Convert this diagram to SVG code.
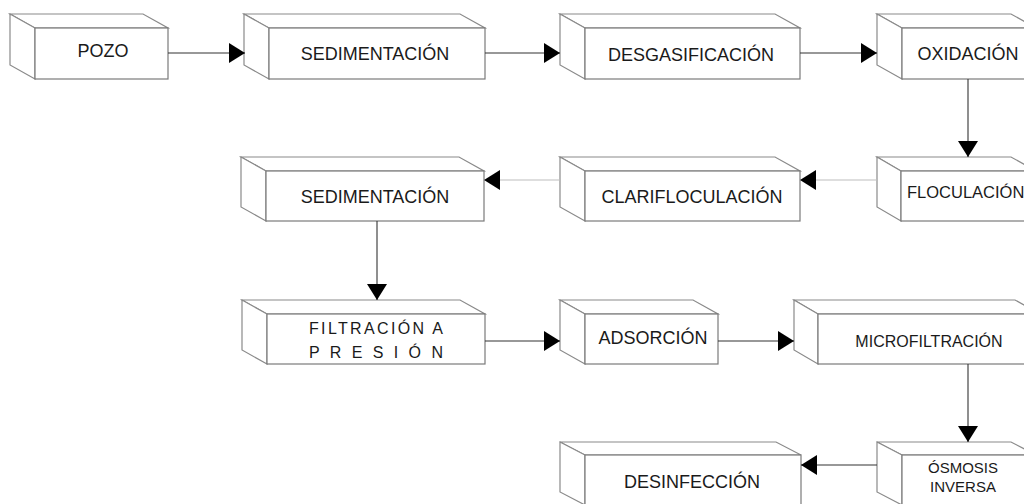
<svg xmlns="http://www.w3.org/2000/svg" width="1024" height="504" viewBox="0 0 1024 504">
<style>
.face{fill:#fff;stroke:#8a8a8a;stroke-width:1.2;stroke-linejoin:miter}
.front{fill:#fff;stroke:#7a7a7a;stroke-width:1.2}
.lbl{font-family:"Liberation Sans",Arial,sans-serif;font-size:18px;fill:#1a1a1a;text-anchor:middle}
.sm{font-size:16px}
.xs{font-size:15px}
.conn{stroke:#333;stroke-width:1.1;fill:none;marker-end:url(#ah)}
.light{stroke:#bdbdbd}
</style>
<defs>
<marker id="ah" viewBox="0 0 16 20" refX="16" refY="10" markerWidth="16" markerHeight="20" markerUnits="userSpaceOnUse" orient="auto">
<path d="M0,0 L16,10 L0,20 Z" fill="#000"/>
</marker>
</defs>
<rect width="1024" height="504" fill="#fff"/>

<g id="pozo">
<polygon class="face" points="10,14 143,14 168,28 35,28"/>
<polygon class="face" points="10,14 35,28 35,79 10,65"/>
<rect class="front" x="35" y="28" width="133" height="51"/>
<text class="lbl" x="103" y="57">POZO</text>
</g>
<g id="sedimentacion1">
<polygon class="face" points="244,14 460,14 485,28 269,28"/>
<polygon class="face" points="244,14 269,28 269,79 244,65"/>
<rect class="front" x="269" y="28" width="216" height="51"/>
<text class="lbl" x="375" y="60">SEDIMENTACIÓN</text>
</g>
<g id="desgasificacion">
<polygon class="face" points="560,14 775,14 800,28 585,28"/>
<polygon class="face" points="560,14 585,28 585,79 560,65"/>
<rect class="front" x="585" y="28" width="215" height="51"/>
<text class="lbl" x="691" y="61">DESGASIFICACIÓN</text>
</g>
<g id="oxidacion">
<polygon class="face" points="877,14 1011,14 1036,28 902,28"/>
<polygon class="face" points="877,14 902,28 902,79 877,65"/>
<rect class="front" x="902" y="28" width="134" height="51"/>
<text class="lbl" x="968" y="60">OXIDACIÓN</text>
</g>

<g id="sedimentacion2">
<polygon class="face" points="241,157 459,157 484,171 266,171"/>
<polygon class="face" points="241,157 266,171 266,221 241,207"/>
<rect class="front" x="266" y="171" width="218" height="50"/>
<text class="lbl" x="375" y="203">SEDIMENTACIÓN</text>
</g>
<g id="clarifloculacion">
<polygon class="face" points="560,157 775,157 800,171 585,171"/>
<polygon class="face" points="560,157 585,171 585,221 560,207"/>
<rect class="front" x="585" y="171" width="215" height="50"/>
<text class="lbl" x="692" y="203">CLARIFLOCULACIÓN</text>
</g>
<g id="floculacion">
<polygon class="face" points="877,157 1011,157 1036,171 901,171"/>
<polygon class="face" points="877,157 901,171 901,221 877,207"/>
<rect class="front" x="901" y="171" width="135" height="50"/>
<text class="lbl" x="907" y="198" style="text-anchor:start;font-size:16.5px">FLOCULACIÓN</text>
</g>

<g id="filtracion">
<polygon class="face" points="242,300 460,300 485,314 267,314"/>
<polygon class="face" points="242,300 267,314 267,364 242,350"/>
<rect class="front" x="267" y="314" width="218" height="50"/>
<text class="lbl sm" x="309" y="334" style="text-anchor:start" textLength="134" lengthAdjust="spacing">FILTRACIÓN A</text>
<text class="lbl sm" x="309" y="358" style="text-anchor:start" textLength="134" lengthAdjust="spacing">P R E S I Ó N</text>
</g>
<g id="adsorcion">
<polygon class="face" points="560,300 693,300 718,314 585,314"/>
<polygon class="face" points="560,300 585,314 585,364 560,350"/>
<rect class="front" x="585" y="314" width="133" height="50"/>
<text class="lbl" x="653" y="344">ADSORCIÓN</text>
</g>
<g id="microfiltracion">
<polygon class="face" points="794,300 1015,300 1040,314 818,314"/>
<polygon class="face" points="794,300 818,314 818,364 794,350"/>
<rect class="front" x="818" y="314" width="222" height="50"/>
<text class="lbl sm" x="929" y="347">MICROFILTRACIÓN</text>
</g>

<g id="desinfeccion">
<polygon class="face" points="560,442 776,442 801,455 585,455"/>
<polygon class="face" points="560,442 585,455 585,505 560,492"/>
<rect class="front" x="585" y="455" width="216" height="50"/>
<text class="lbl" x="692" y="488">DESINFECCIÓN</text>
</g>
<g id="osmosis">
<polygon class="face" points="877,442 1011,442 1036,455 902,455"/>
<polygon class="face" points="877,442 902,455 902,505 877,492"/>
<rect class="front" x="902" y="455" width="134" height="50"/>
<text class="lbl xs" x="963" y="473">ÓSMOSIS</text>
<text class="lbl xs" x="963" y="492">INVERSA</text>
</g>

<g id="connectors">
<line class="conn" x1="168" y1="53" x2="245" y2="53"/>
<line class="conn" x1="485" y1="53" x2="560" y2="53"/>
<line class="conn" x1="800" y1="53" x2="877" y2="53"/>
<line class="conn" x1="968" y1="79" x2="968" y2="157"/>
<line class="conn light" x1="877" y1="180" x2="800" y2="180"/>
<line class="conn light" x1="560" y1="180" x2="484" y2="180"/>
<line class="conn" x1="377" y1="221" x2="377" y2="300"/>
<line class="conn" x1="485" y1="341" x2="560" y2="341"/>
<line class="conn" x1="718" y1="341" x2="794" y2="341"/>
<line class="conn" x1="968" y1="364" x2="968" y2="442"/>
<line class="conn" x1="877" y1="465" x2="801" y2="465"/>
</g>
</svg>
